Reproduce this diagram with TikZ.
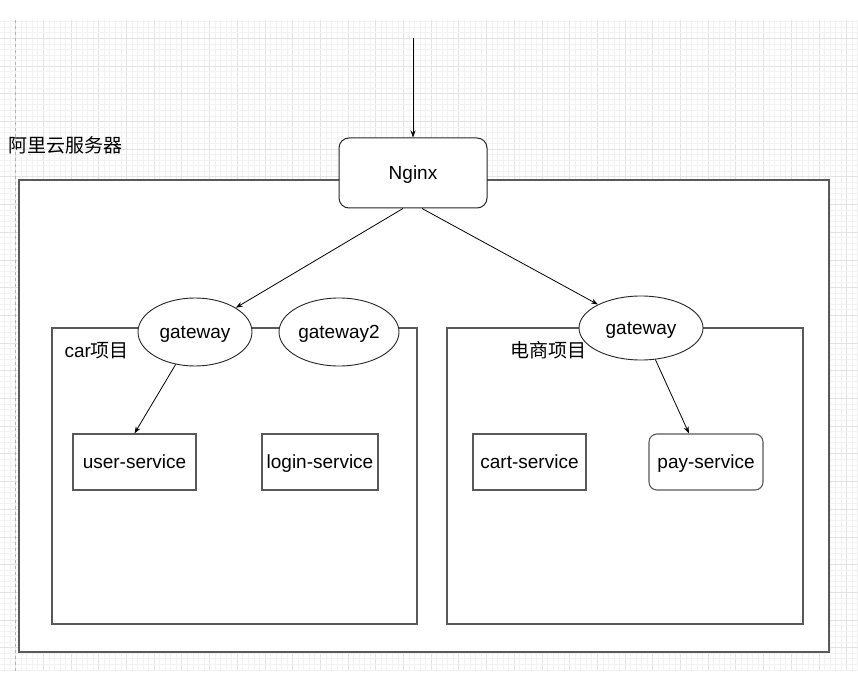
\documentclass[tikz,border=0pt]{standalone}
\usepackage{fontspec}
\setmainfont{Liberation Sans}
\newfontfamily\cjk{Noto Sans CJK SC}
\usetikzlibrary{shapes.geometric,arrows.meta}

\begin{document}
\begin{tikzpicture}[x=1pt, y=-1pt,
    txt/.style={font=\fontsize{19}{23}\selectfont, text height=15.5pt, text depth=2pt},
    minorgrid/.style={draw=black!5, line width=0.6pt},
    majorgrid/.style={draw=black!11, line width=0.7pt},
    frame/.style={draw=black!65, line width=1.3pt, fill=white, inner sep=0pt},
    svc/.style={draw=black!65, line width=1.1pt, fill=white, minimum height=56pt, inner sep=0pt, txt},
    gw/.style={ellipse, draw=black!85, line width=0.9pt, fill=white, inner sep=0pt, minimum height=68pt, txt},
    link/.style={-{Stealth[length=7pt,width=5pt]}, black, line width=0.8pt}]
    \useasboundingbox (0,0) rectangle (858,684);
    \fill[white] (0,0) rectangle (858,684);
    % grid of the drawing page
    \foreach \k in {-2,...,152} {
        \pgfmathtruncatemacro{\major}{mod(\k+100,5)==0}
        \ifnum\major=1
            \draw[majorgrid] ({15.6+5.54*\k},20) -- ({15.6+5.54*\k},671);
        \else
            \draw[minorgrid] ({15.6+5.54*\k},20) -- ({15.6+5.54*\k},671);
        \fi
    }
    \foreach \k in {-3,...,114} {
        \pgfmathtruncatemacro{\major}{mod(\k+100,5)==0}
        \ifnum\major=1
            \draw[majorgrid] (0,{38.3+5.54*\k}) -- (858,{38.3+5.54*\k});
        \else
            \draw[minorgrid] (0,{38.3+5.54*\k}) -- (858,{38.3+5.54*\k});
        \fi
    }
    \draw[black!30, dashed, line width=0.7pt] (15.6,20) -- (15.6,671);
    % containers
    \node[frame, minimum width=810pt, minimum height=472pt] (aliyun) at (424,416) {};
    \node[txt, anchor=west] (aliyunlbl) at (5,146) {\cjk 阿里云服务器};
    \node[frame, minimum width=365pt, minimum height=296pt] (carbox) at (234.5,476) {};
    \node[frame, minimum width=356pt, minimum height=296pt] (shopbox) at (625,476) {};
    \node[txt, anchor=west] (carlbl) at (61,351) {car{\cjk 项目}};
    \node[txt, anchor=west] (shoplbl) at (507,351) {\cjk 电商项目};
    % entry and gateways
    \node[draw=black!85, line width=1pt, fill=white, rounded corners=10pt, minimum width=148pt, minimum height=70pt, txt] (nginx) at (413,173) {Nginx};
    \node[gw, minimum width=114pt] (gwcar) at (195,332) {gateway};
    \node[gw, minimum width=120pt] (gwcar2) at (339,332) {gateway2};
    \node[gw, minimum width=124pt, minimum height=64pt] (gwshop) at (641,328) {gateway};
    % services
    \node[svc, minimum width=123pt] (user) at (134.5,462) {user-service};
    \node[svc, minimum width=116pt] (login) at (320,462) {login-service};
    \node[svc, minimum width=113pt] (cart) at (529.5,462) {cart-service};
    \node[svc, minimum width=114pt, rounded corners=8pt] (pay) at (706,462) {pay-service};
    % connectors
    \coordinate (entry) at (413,38);
    \draw[link] (entry) -- (nginx);
    \draw[link] ([xshift=-10pt]nginx.south) -- (gwcar);
    \draw[link] ([xshift=9pt]nginx.south) -- (gwshop);
    \draw[link] (gwcar) -- (user.north);
    \draw[link] (gwshop) -- ([xshift=-17pt]pay.north);
\end{tikzpicture}
\end{document}
